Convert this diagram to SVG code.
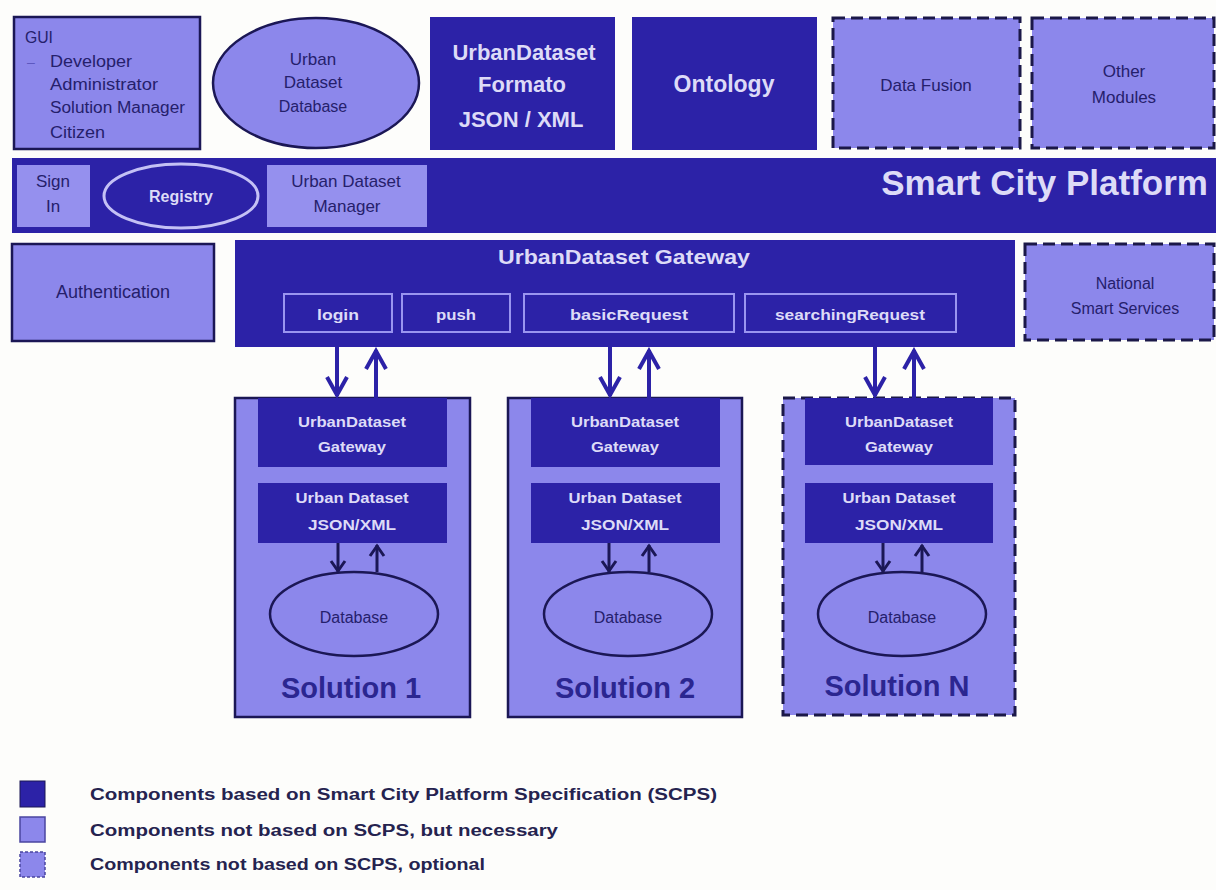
<svg xmlns="http://www.w3.org/2000/svg" width="1216" height="890" viewBox="0 0 1216 890">
<defs>
<style>
.bg{fill:#fdfdfb}
.dark{fill:#2c22a7}
.light{fill:#8c87eb;stroke:#1b1755;stroke-width:2.5}
.lightnb{fill:#9590ee}
.dash{fill:#8c87eb;stroke:#1b1848;stroke-width:3;stroke-dasharray:12 6}
.sub{fill:none;stroke:#9a95f0;stroke-width:2}
.dbell{fill:none;stroke:#1b1755;stroke-width:2.5}
text{font-family:"Liberation Sans",Arial,sans-serif}
.tl{fill:#dddbf7;font-weight:bold}
.td{fill:#25206b}
.c{text-anchor:middle}
.big{stroke:#2c22a7;stroke-width:4;fill:none}
.small{stroke:#1b1755;stroke-width:3;fill:none}
.sol{fill:#2b2690;font-weight:bold;font-size:29px;text-anchor:middle}
.leg{fill:#25234f;font-weight:bold;font-size:16px}
</style>
<marker id="ah" markerUnits="userSpaceOnUse" markerWidth="26" markerHeight="26" viewBox="0 0 26 26" refX="23" refY="13" orient="auto">
<path d="M4,3 L22,13 L4,23" fill="none" stroke="#2c22a7" stroke-width="4"/>
</marker>
<marker id="ahs" markerUnits="userSpaceOnUse" markerWidth="18" markerHeight="18" viewBox="0 0 18 18" refX="16" refY="9" orient="auto">
<path d="M5,2 L15,9 L5,16" fill="none" stroke="#1b1755" stroke-width="3"/>
</marker>
</defs>
<rect class="bg" x="0" y="0" width="1216" height="890"/>

<g id="gui">
<rect class="light" x="14" y="17" width="186" height="132" stroke-width="3"/>
<text class="td" x="25" y="43" font-size="16" textLength="28" lengthAdjust="spacingAndGlyphs">GUI</text>
<text x="27" y="67" font-size="14" fill="#5d58c0">–</text>
<text class="td" x="50" y="67" font-size="16" textLength="82" lengthAdjust="spacingAndGlyphs">Developer</text>
<text class="td" x="50" y="90" font-size="16" textLength="108" lengthAdjust="spacingAndGlyphs">Administrator</text>
<text class="td" x="50" y="113" font-size="16" textLength="135" lengthAdjust="spacingAndGlyphs">Solution Manager</text>
<text class="td" x="50" y="138" font-size="16" textLength="55" lengthAdjust="spacingAndGlyphs">Citizen</text>
</g>

<g id="urban-dataset-database">
<ellipse class="light" cx="316" cy="83" rx="103" ry="65"/>
<text class="td c" x="313" y="65" font-size="17">Urban</text>
<text class="td c" x="313" y="88" font-size="17">Dataset</text>
<text class="td c" x="313" y="112" font-size="16">Database</text>
</g>

<g id="urbandataset-formato">
<rect class="dark" x="430" y="17" width="185" height="133"/>
<text class="tl c" x="524" y="60" font-size="22">UrbanDataset</text>
<text class="tl c" x="522" y="92" font-size="22">Formato</text>
<text class="tl c" x="521" y="127" font-size="22">JSON / XML</text>
</g>

<g id="ontology">
<rect class="dark" x="632" y="17" width="185" height="133"/>
<text class="tl c" x="724" y="92" font-size="23">Ontology</text>
</g>

<g id="data-fusion">
<rect class="dash" x="833" y="18" width="187" height="130"/>
<text class="td c" x="926" y="91" font-size="17">Data Fusion</text>
</g>

<g id="other-modules">
<rect class="dash" x="1032" y="18" width="182" height="130"/>
<text class="td c" x="1124" y="77" font-size="17">Other</text>
<text class="td c" x="1124" y="103" font-size="17">Modules</text>
</g>

<g id="smart-city-platform">
<rect class="dark" x="12" y="158" width="1204" height="75"/>
<text class="tl" x="1208" y="195" font-size="35" text-anchor="end">Smart City Platform</text>
</g>

<g id="sign-in">
<rect class="lightnb" x="17" y="165" width="73" height="62"/>
<text class="td c" x="53" y="187" font-size="17">Sign</text>
<text class="td c" x="53" y="212" font-size="17">In</text>
</g>

<g id="registry">
<ellipse cx="181" cy="196" rx="77" ry="32" fill="#2c22a7" stroke="#c4c1f5" stroke-width="3"/>
<text class="tl c" x="181" y="202" font-size="16">Registry</text>
</g>

<g id="urban-dataset-manager">
<rect class="lightnb" x="267" y="165" width="160" height="62"/>
<text class="td c" x="346" y="187" font-size="17">Urban Dataset</text>
<text class="td c" x="347" y="212" font-size="17">Manager</text>
</g>

<g id="authentication">
<rect class="light" x="12" y="244" width="202" height="97" stroke-width="3"/>
<text class="td c" x="113" y="298" font-size="18">Authentication</text>
</g>

<g id="urbandataset-gateway">
<rect class="dark" x="235" y="240" width="780" height="107"/>
<text class="tl c" x="624" y="264" font-size="21" textLength="252" lengthAdjust="spacingAndGlyphs">UrbanDataset Gateway</text>
<rect class="sub" x="284" y="294" width="108" height="38"/>
<text class="tl c" x="338" y="320" font-size="15" textLength="42" lengthAdjust="spacingAndGlyphs">login</text>
<rect class="sub" x="402" y="294" width="108" height="38"/>
<text class="tl c" x="456" y="320" font-size="15" textLength="40" lengthAdjust="spacingAndGlyphs">push</text>
<rect class="sub" x="524" y="294" width="210" height="38"/>
<text class="tl c" x="629" y="320" font-size="15" textLength="118" lengthAdjust="spacingAndGlyphs">basicRequest</text>
<rect class="sub" x="745" y="294" width="211" height="38"/>
<text class="tl c" x="850" y="320" font-size="15" textLength="150" lengthAdjust="spacingAndGlyphs">searchingRequest</text>
</g>

<g id="national-smart-services">
<rect class="dash" x="1025" y="244" width="189" height="96"/>
<text class="td c" x="1125" y="289" font-size="16">National</text>
<text class="td c" x="1125" y="314" font-size="16">Smart Services</text>
</g>

<g id="solution-1">
<rect class="light" x="235" y="398" width="235" height="319"/>
<rect class="dark" x="258" y="398" width="189" height="69"/>
<text class="tl c" x="352" y="427" font-size="14" textLength="108" lengthAdjust="spacingAndGlyphs">UrbanDataset</text>
<text class="tl c" x="352" y="452" font-size="14" textLength="68" lengthAdjust="spacingAndGlyphs">Gateway</text>
<rect class="dark" x="258" y="483" width="189" height="60"/>
<text class="tl c" x="352" y="503" font-size="14" textLength="113" lengthAdjust="spacingAndGlyphs">Urban Dataset</text>
<text class="tl c" x="352" y="530" font-size="14" textLength="88" lengthAdjust="spacingAndGlyphs">JSON/XML</text>
<ellipse class="dbell" cx="354" cy="614" rx="84" ry="42"/>
<text class="td c" x="354" y="623" font-size="16">Database</text>
<text class="sol" x="351" y="698">Solution 1</text>
</g>

<g id="solution-2">
<rect class="light" x="508" y="398" width="234" height="319"/>
<rect class="dark" x="531" y="398" width="189" height="69"/>
<text class="tl c" x="625" y="427" font-size="14" textLength="108" lengthAdjust="spacingAndGlyphs">UrbanDataset</text>
<text class="tl c" x="625" y="452" font-size="14" textLength="68" lengthAdjust="spacingAndGlyphs">Gateway</text>
<rect class="dark" x="531" y="483" width="189" height="60"/>
<text class="tl c" x="625" y="503" font-size="14" textLength="113" lengthAdjust="spacingAndGlyphs">Urban Dataset</text>
<text class="tl c" x="625" y="530" font-size="14" textLength="88" lengthAdjust="spacingAndGlyphs">JSON/XML</text>
<ellipse class="dbell" cx="628" cy="614" rx="84" ry="42"/>
<text class="td c" x="628" y="623" font-size="16">Database</text>
<text class="sol" x="625" y="698">Solution 2</text>
</g>

<g id="solution-n">
<rect class="dash" x="783" y="398" width="232" height="317"/>
<rect class="dark" x="805" y="398" width="188" height="67"/>
<text class="tl c" x="899" y="427" font-size="14" textLength="108" lengthAdjust="spacingAndGlyphs">UrbanDataset</text>
<text class="tl c" x="899" y="452" font-size="14" textLength="68" lengthAdjust="spacingAndGlyphs">Gateway</text>
<rect class="dark" x="805" y="483" width="188" height="60"/>
<text class="tl c" x="899" y="503" font-size="14" textLength="113" lengthAdjust="spacingAndGlyphs">Urban Dataset</text>
<text class="tl c" x="899" y="530" font-size="14" textLength="88" lengthAdjust="spacingAndGlyphs">JSON/XML</text>
<ellipse class="dbell" cx="902" cy="614" rx="84" ry="42"/>
<text class="td c" x="902" y="623" font-size="16">Database</text>
<text class="sol" x="897" y="696">Solution N</text>
</g>

<g id="connectors">
<line class="big" x1="337" y1="347" x2="337" y2="396" marker-end="url(#ah)"/>
<line class="big" x1="376" y1="398" x2="376" y2="350" marker-end="url(#ah)"/>
<line class="big" x1="610" y1="347" x2="610" y2="396" marker-end="url(#ah)"/>
<line class="big" x1="649" y1="398" x2="649" y2="350" marker-end="url(#ah)"/>
<line class="big" x1="875" y1="347" x2="875" y2="396" marker-end="url(#ah)"/>
<line class="big" x1="914" y1="398" x2="914" y2="350" marker-end="url(#ah)"/>
<line class="small" x1="338" y1="543" x2="338" y2="572" marker-end="url(#ahs)"/>
<line class="small" x1="377" y1="572" x2="377" y2="545" marker-end="url(#ahs)"/>
<line class="small" x1="609" y1="543" x2="609" y2="572" marker-end="url(#ahs)"/>
<line class="small" x1="649" y1="572" x2="649" y2="545" marker-end="url(#ahs)"/>
<line class="small" x1="883" y1="543" x2="883" y2="572" marker-end="url(#ahs)"/>
<line class="small" x1="922" y1="572" x2="922" y2="545" marker-end="url(#ahs)"/>
</g>

<g id="legend">
<rect x="20" y="781" width="25" height="26" fill="#2c22a7" stroke="#1b1755" stroke-width="1"/>
<text class="leg" x="90" y="800" textLength="627" lengthAdjust="spacingAndGlyphs">Components based on Smart City Platform Specification (SCPS)</text>
<rect x="20" y="817" width="25" height="25" fill="#8c87eb" stroke="#4a45a0" stroke-width="1.5"/>
<text class="leg" x="90" y="836" textLength="468" lengthAdjust="spacingAndGlyphs">Components not based on SCPS, but necessary</text>
<rect x="20" y="852" width="25" height="25" fill="#8c87eb" stroke="#4a45a0" stroke-width="1.5" stroke-dasharray="3 2"/>
<text class="leg" x="90" y="870" textLength="395" lengthAdjust="spacingAndGlyphs">Components not based on SCPS, optional</text>
</g>
</svg>
